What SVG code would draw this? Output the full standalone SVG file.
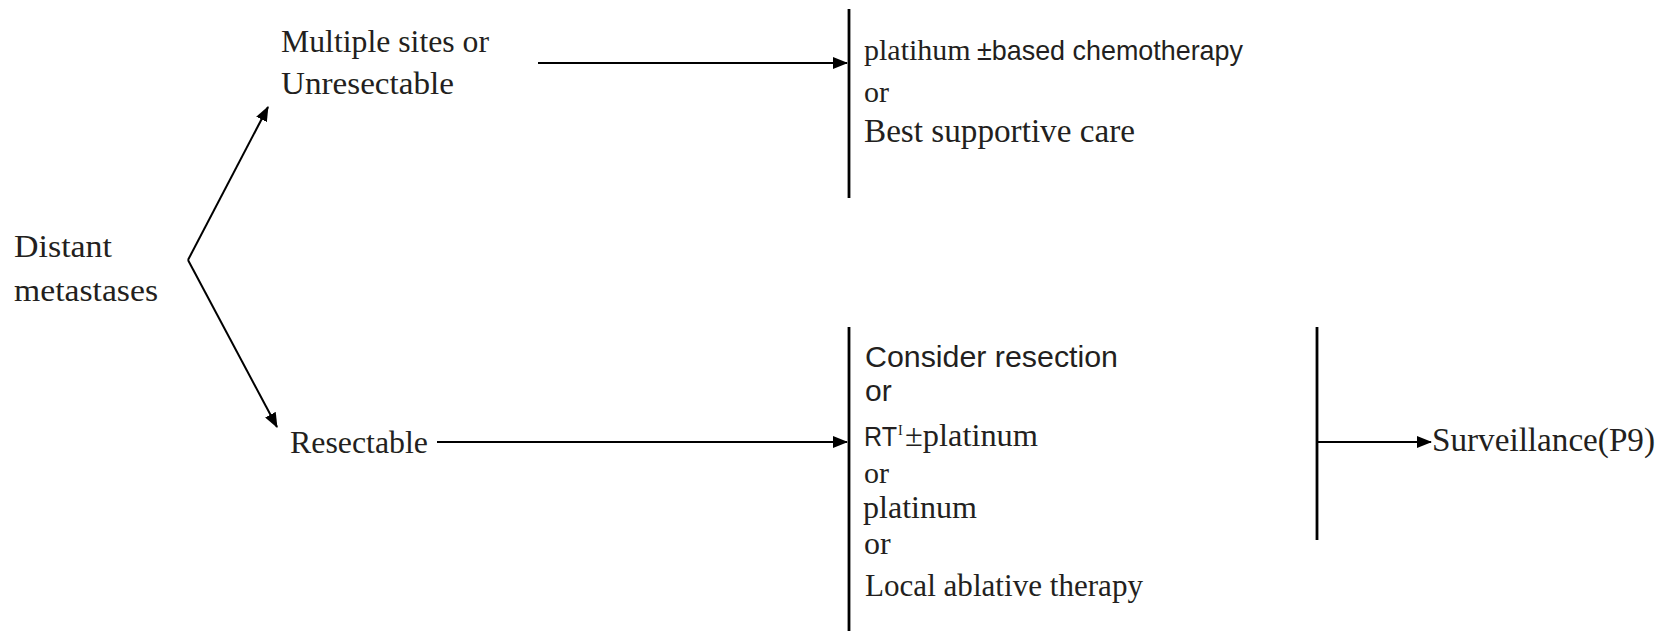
<svg xmlns="http://www.w3.org/2000/svg" width="1663" height="631" viewBox="0 0 1663 631">
  <style>
    .serif { font-family: "Liberation Serif", "Times New Roman", serif; fill: #231f20; }
    .sans { font-family: "Liberation Sans", Arial, sans-serif; fill: #231f20; }
    .conn { stroke: #000; stroke-width: 2; fill: none; }
    .bar { stroke: #000; stroke-width: 2.8; fill: none; }
  </style>
  <defs>
    <marker id="arrow" viewBox="0 0 15 12" refX="14" refY="6" markerWidth="15" markerHeight="12" markerUnits="userSpaceOnUse" orient="auto">
      <path d="M0,0 L15,6 L0,12 z" fill="#000"/>
    </marker>
  </defs>

  <g id="connectors">
    <line class="conn" x1="188" y1="260" x2="268" y2="107" marker-end="url(#arrow)"/>
    <line class="conn" x1="188" y1="260" x2="277" y2="427" marker-end="url(#arrow)"/>
    <line class="conn" x1="538" y1="63" x2="847" y2="63" marker-end="url(#arrow)"/>
    <line class="conn" x1="437" y1="442" x2="847" y2="442" marker-end="url(#arrow)"/>
    <line class="conn" x1="1317" y1="442" x2="1431" y2="442" marker-end="url(#arrow)"/>
  </g>

  <g id="node-distant">
    <text class="serif" x="14" y="257" font-size="32" textLength="98" lengthAdjust="spacingAndGlyphs">Distant</text>
    <text class="serif" x="14" y="301" font-size="32" textLength="144" lengthAdjust="spacingAndGlyphs">metastases</text>
  </g>

  <g id="node-unresectable">
    <text class="serif" x="281" y="52" font-size="31" textLength="208" lengthAdjust="spacingAndGlyphs">Multiple sites or</text>
    <text class="serif" x="281" y="94" font-size="31" textLength="173" lengthAdjust="spacingAndGlyphs">Unresectable</text>
  </g>

  <g id="node-resectable">
    <text class="serif" x="290" y="453" font-size="32" textLength="138" lengthAdjust="spacingAndGlyphs">Resectable</text>
  </g>

  <g id="node-chemo">
    <line class="bar" x1="849" y1="9" x2="849" y2="198"/>
    <text class="serif" x="864" y="60" font-size="30">platihum</text>
    <text class="sans" x="977" y="60" font-size="28" textLength="266" lengthAdjust="spacingAndGlyphs">±based chemotherapy</text>
    <text class="serif" x="864" y="102" font-size="30">or</text>
    <text class="serif" x="864" y="142" font-size="34" textLength="271" lengthAdjust="spacingAndGlyphs">Best supportive care</text>
  </g>

  <g id="node-treatment">
    <line class="bar" x1="849" y1="327" x2="849" y2="631"/>
    <text class="sans" x="865" y="367" font-size="30" textLength="253" lengthAdjust="spacingAndGlyphs">Consider resection</text>
    <text class="sans" x="865" y="401" font-size="30">or</text>
    <text class="sans" x="864" y="446" font-size="28" textLength="33" lengthAdjust="spacingAndGlyphs">RT</text>
    <text class="serif" x="898" y="435" font-size="14">I</text>
    <text class="serif" x="905" y="446" font-size="32" textLength="133" lengthAdjust="spacingAndGlyphs">±platinum</text>
    <text class="serif" x="864" y="483" font-size="30">or</text>
    <text class="serif" x="863" y="518" font-size="32" textLength="114" lengthAdjust="spacingAndGlyphs">platinum</text>
    <text class="serif" x="864" y="554" font-size="32">or</text>
    <text class="serif" x="865" y="596" font-size="31" textLength="278" lengthAdjust="spacingAndGlyphs">Local ablative therapy</text>
  </g>

  <g id="node-surveillance">
    <line class="bar" x1="1317" y1="327" x2="1317" y2="540"/>
    <text class="serif" x="1432" y="451" font-size="33" textLength="223" lengthAdjust="spacingAndGlyphs">Surveillance(P9)</text>
  </g>
</svg>
